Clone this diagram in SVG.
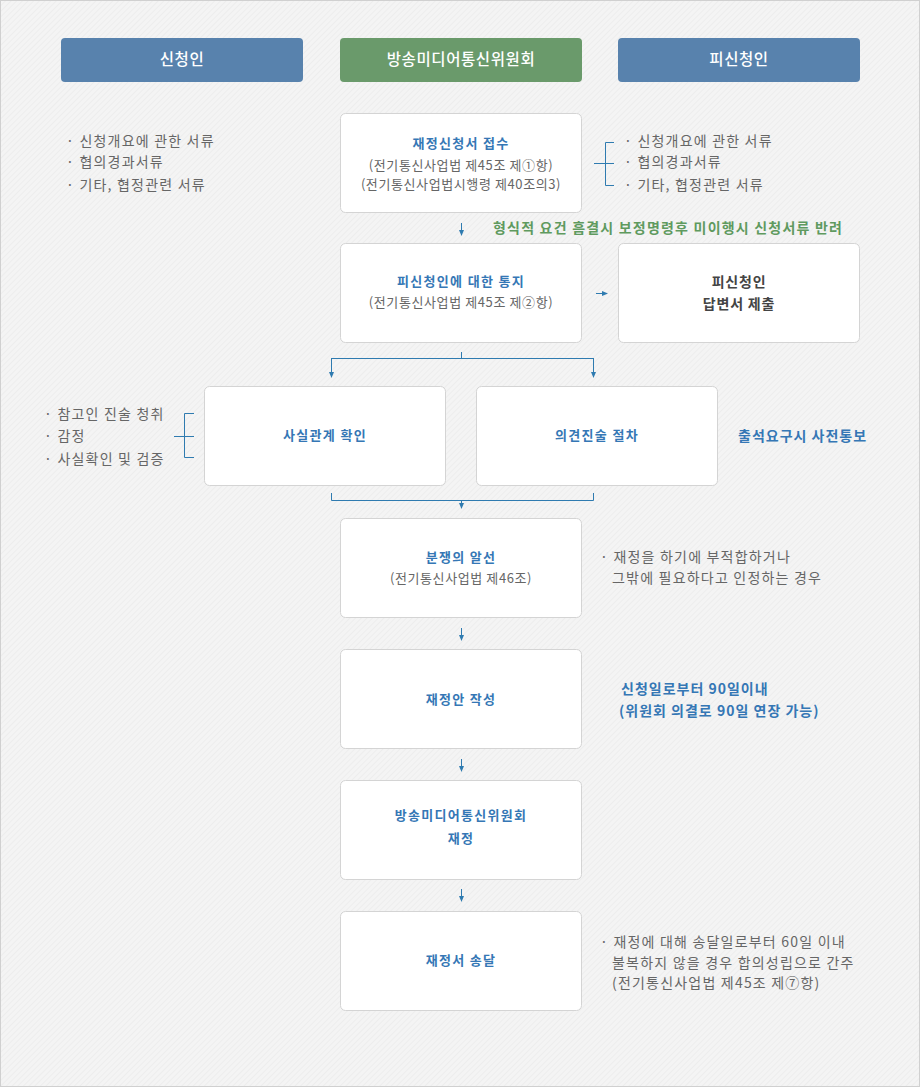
<svg xmlns="http://www.w3.org/2000/svg" width="920" height="1087" viewBox="0 0 920 1087">
<defs>
<pattern id="hatch" width="4" height="4" patternUnits="userSpaceOnUse" patternTransform="rotate(45)">
<rect width="4" height="4" fill="#f4f4f4"/>
<line x1="0" y1="0" x2="0" y2="4" stroke="#ebebeb" stroke-width="1.5"/>
</pattern>
<marker id="ah" viewBox="0 0 6 6" refX="5" refY="3" markerWidth="6" markerHeight="6" orient="auto" markerUnits="userSpaceOnUse">
<path d="M0,0.5 L6,3 L0,5.5 Z" fill="#2f7bb0"/>
</marker>
<style>
text{font-family:"Noto Sans CJK KR","Noto Sans",sans-serif;}
.hdr{fill:#fff;font-size:15.5px;font-weight:500;text-anchor:middle;letter-spacing:0.6px;}
.box{fill:#fff;stroke:#d4d4d4;stroke-width:1;}
.ttl{fill:#3577b5;font-size:13px;font-weight:bold;text-anchor:middle;letter-spacing:1.3px;}
.sub{fill:#666;font-size:13px;text-anchor:middle;letter-spacing:0.6px;}
.dark{fill:#444;font-size:14px;font-weight:bold;text-anchor:middle;letter-spacing:0.8px;}
.note{fill:#666;font-size:14px;letter-spacing:1.2px;}
.bnote{fill:#3577b5;font-size:14px;font-weight:bold;letter-spacing:1px;}
.gnote{fill:#5f9a5f;font-size:14px;font-weight:bold;letter-spacing:1.2px;}
.ln{fill:none;stroke:#2f7bb0;stroke-width:1;}
</style>
</defs>
<rect x="0" y="0" width="920" height="1087" fill="url(#hatch)"/>
<rect x="0.5" y="0.5" width="919" height="1086" fill="none" stroke="#d0d0d0"/>

<g id="hdr-applicant">
<rect x="61" y="38" width="242" height="44" rx="4" fill="#5882ad"/>
<text class="hdr" x="182" y="65">신청인</text>
</g>
<g id="hdr-commission">
<rect x="340" y="38" width="242" height="44" rx="4" fill="#6a9a6b"/>
<text class="hdr" x="461" y="65">방송미디어통신위원회</text>
</g>
<g id="hdr-respondent">
<rect x="618" y="38" width="242" height="44" rx="4" fill="#5882ad"/>
<text class="hdr" x="739" y="65">피신청인</text>
</g>

<g id="note-applicant-docs">
<text class="note" x="66" y="146">· 신청개요에 관한 서류</text>
<text class="note" x="66" y="167">· 협의경과서류</text>
<text class="note" x="66" y="190">· 기타, 협정관련 서류</text>
</g>

<g id="n-receipt">
<rect class="box" x="340.5" y="113.5" width="241" height="99" rx="5"/>
<text class="ttl" x="461" y="148">재정신청서 접수</text>
<text class="sub" x="461" y="170">(전기통신사업법 제45조 제①항)</text>
<text class="sub" x="461" y="189">(전기통신사업법시행령 제40조의3)</text>
</g>

<g id="note-respondent-docs">
<path class="ln" d="M614,142.5 H605.5 V185.5 H614 M594,163.5 H614"/>
<text class="note" x="624" y="146">· 신청개요에 관한 서류</text>
<text class="note" x="624" y="167">· 협의경과서류</text>
<text class="note" x="624" y="190">· 기타, 협정관련 서류</text>
</g>

<g id="note-formal">
<text class="gnote" x="493" y="233">형식적 요건 흠결시 보정명령후 미이행시 신청서류 반려</text>
</g>

<g id="n-notify">
<rect class="box" x="340.5" y="243.5" width="241" height="99" rx="5"/>
<text class="ttl" x="461" y="286">피신청인에 대한 통지</text>
<text class="sub" x="461" y="307">(전기통신사업법 제45조 제②항)</text>
</g>

<g id="n-answer">
<rect class="box" x="618.5" y="243.5" width="241" height="99" rx="5"/>
<text class="dark" x="739" y="287">피신청인</text>
<text class="dark" x="739" y="309">답변서 제출</text>
</g>

<g id="note-fact">
<path class="ln" d="M194,413.5 H184.5 V457.5 H194 M174,436.5 H194"/>
<text class="note" x="44" y="419">· 참고인 진술 청취</text>
<text class="note" x="44" y="441">· 감정</text>
<text class="note" x="44" y="464">· 사실확인 및 검증</text>
</g>

<g id="n-fact">
<rect class="box" x="204.5" y="386.5" width="241" height="99" rx="5"/>
<text class="ttl" x="325" y="440">사실관계 확인</text>
</g>

<g id="n-opinion">
<rect class="box" x="476.5" y="386.5" width="241" height="99" rx="5"/>
<text class="ttl" x="597" y="440">의견진술 절차</text>
</g>

<g id="note-attend">
<text class="bnote" x="738" y="441">출석요구시 사전통보</text>
</g>

<g id="n-mediation">
<rect class="box" x="340.5" y="518.5" width="241" height="99" rx="5"/>
<text class="ttl" x="461" y="562">분쟁의 알선</text>
<text class="sub" x="461" y="583">(전기통신사업법 제46조)</text>
</g>

<g id="note-mediation">
<text class="note" x="600" y="562">· 재정을 하기에 부적합하거나</text>
<text class="note" x="612" y="583">그밖에 필요하다고 인정하는 경우</text>
</g>

<g id="n-draft">
<rect class="box" x="340.5" y="649.5" width="241" height="99" rx="5"/>
<text class="ttl" x="461" y="704">재정안 작성</text>
</g>

<g id="note-draft">
<text class="bnote" x="621" y="694">신청일로부터 90일이내</text>
<text class="bnote" x="619" y="716">(위원회 의결로 90일 연장 가능)</text>
</g>

<g id="n-decision">
<rect class="box" x="340.5" y="780.5" width="241" height="99" rx="5"/>
<text class="ttl" x="461" y="820">방송미디어통신위원회</text>
<text class="ttl" x="461" y="843">재정</text>
</g>

<g id="n-delivery">
<rect class="box" x="340.5" y="911.5" width="241" height="99" rx="5"/>
<text class="ttl" x="461" y="965">재정서 송달</text>
</g>

<g id="note-delivery">
<text class="note" x="600" y="947">· 재정에 대해 송달일로부터 60일 이내</text>
<text class="note" x="612" y="968">불복하지 않을 경우 합의성립으로 간주</text>
<text class="note" x="612" y="988">(전기통신사업법 제45조 제⑦항)</text>
</g>

<g id="connectors">
<line class="ln" x1="461.5" y1="223" x2="461.5" y2="235" marker-end="url(#ah)"/>
<line class="ln" x1="596" y1="293.5" x2="607" y2="293.5" marker-end="url(#ah)"/>
<path class="ln" d="M461.5,352 V358.5 M331.5,358.5 H593.5"/>
<line class="ln" x1="331.5" y1="358" x2="331.5" y2="377" marker-end="url(#ah)"/>
<line class="ln" x1="593.5" y1="358" x2="593.5" y2="377" marker-end="url(#ah)"/>
<path class="ln" d="M331.5,493 V500.5 H593.5 V493"/>
<line class="ln" x1="461.5" y1="500" x2="461.5" y2="508" marker-end="url(#ah)"/>
<line class="ln" x1="461.5" y1="628" x2="461.5" y2="640" marker-end="url(#ah)"/>
<line class="ln" x1="461.5" y1="759" x2="461.5" y2="771" marker-end="url(#ah)"/>
<line class="ln" x1="461.5" y1="889" x2="461.5" y2="901" marker-end="url(#ah)"/>
</g>
</svg>
